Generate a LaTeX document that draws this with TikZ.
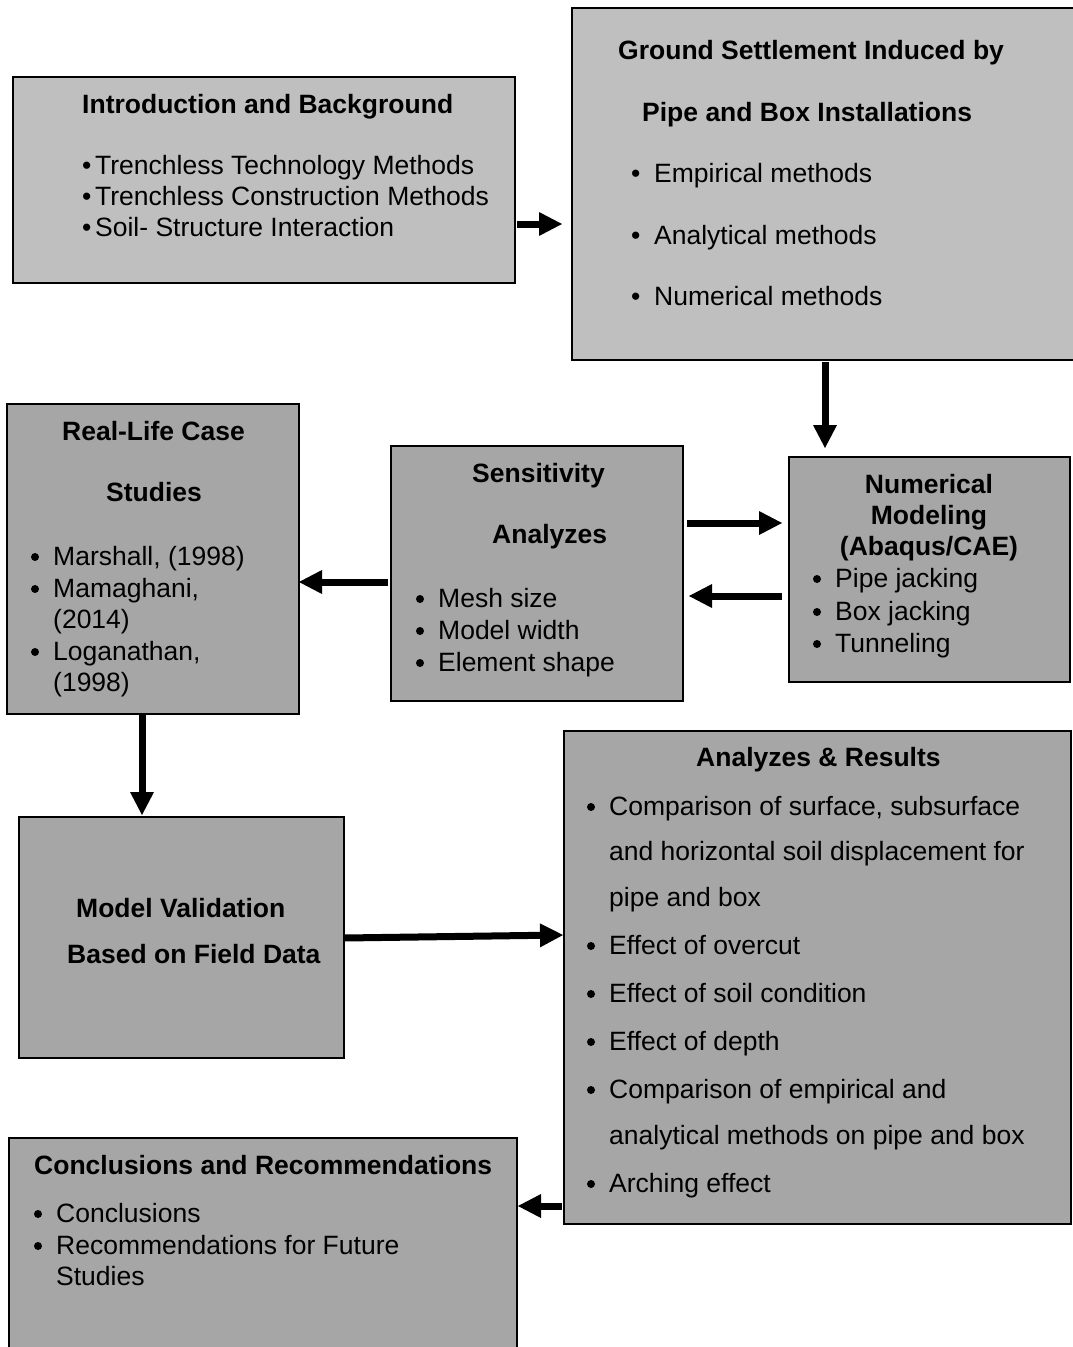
\documentclass[tikz,border=0pt]{standalone}
\usepackage{fontspec}
\setmainfont{Liberation Sans}
\usetikzlibrary{arrows.meta}
\definecolor{lgrey}{HTML}{BFBFBF}
\definecolor{dgrey}{HTML}{A6A6A6}
\newcommand\bitem[4]{\node[txt] (#1) at (#2,#3) {#4};
  \fill ([xshift=-18pt,yshift=8pt]#1.base west) circle (4pt);}
\begin{document}
\begin{tikzpicture}[x=1pt,y=-1pt,
  box/.style={draw=black,line width=2.5pt,anchor=north west,inner sep=0pt,outer sep=0pt},
  lbox/.style={box,fill=lgrey},
  dbox/.style={box,fill=dgrey},
  txt/.style={anchor=base west,inner sep=0pt,font=\fontsize{26.5}{31}\selectfont},
  hd/.style={txt,font=\fontsize{26.5}{31}\selectfont\bfseries},
  arr/.style={line width=7pt,-{Triangle[length=23pt,width=24pt,line width=0pt]}}]
\useasboundingbox (0,0) rectangle (1073,1347);
% boxes
\node[lbox,minimum width=502pt,minimum height=206pt] (intro) at (13,77) {};
\node[lbox,minimum width=530pt,minimum height=352pt] (ground) at (572,8) {};
\node[dbox,minimum width=292pt,minimum height=310pt] (real) at (7,404) {};
\node[dbox,minimum width=292pt,minimum height=255pt] (sens) at (391,446) {};
\node[dbox,minimum width=281pt,minimum height=225pt] (num) at (789,457) {};
\node[dbox,minimum width=325pt,minimum height=241pt] (mv) at (19,817) {};
\node[dbox,minimum width=507pt,minimum height=493pt] (ar) at (564,731) {};
\node[dbox,minimum width=508pt,minimum height=240pt] (conc) at (9,1138) {};
% intro text
\node[hd] (i0) at (82,113) {Introduction and Background};
\node[txt] (i1) at (82,174) {\makebox[13pt][l]{•}Trenchless Technology Methods};
\node[txt] (i2) at (82,205) {\makebox[13pt][l]{•}Trenchless Construction Methods};
\node[txt] (i3) at (82,236) {\makebox[13pt][l]{•}Soil- Structure Interaction};
% ground text
\node[hd] (g0) at (618,59) {Ground Settlement Induced by};
\node[hd] (g1) at (642,121) {Pipe and Box Installations};
\node[txt] (g2) at (631,182) {\makebox[23pt][l]{•}Empirical methods};
\node[txt] (g3) at (631,244) {\makebox[23pt][l]{•}Analytical methods};
\node[txt] (g4) at (631,305) {\makebox[23pt][l]{•}Numerical methods};
% real-life text
\node[hd] (r0) at (62,440) {Real-Life Case};
\node[hd] (r1) at (106,501) {Studies};
\bitem{r2}{53}{565}{Marshall, (1998)}
\bitem{r3}{53}{597}{Mamaghani,}
\node[txt] (r4) at (53,628) {(2014)};
\bitem{r5}{53}{660}{Loganathan,}
\node[txt] (r6) at (53,691) {(1998)};
% sensitivity text
\node[hd] (s0) at (472,482) {Sensitivity};
\node[hd] (s1) at (492,543) {Analyzes};
\bitem{s2}{438}{607}{Mesh size}
\bitem{s3}{438}{639}{Model width}
\bitem{s4}{438}{671}{Element shape}
% numerical text
\node[hd,anchor=base] (n0) at (929,493) {Numerical};
\node[hd,anchor=base] (n1) at (929,524) {Modeling};
\node[hd,anchor=base] (n2) at (929,555) {(Abaqus/CAE)};
\bitem{n3}{835}{587}{Pipe jacking}
\bitem{n4}{835}{620}{Box jacking}
\bitem{n5}{835}{652}{Tunneling}
% model validation text
\node[hd] (m0) at (76,917) {Model Validation};
\node[hd] (m1) at (67,963) {Based on Field Data};
% analyzes & results text
\node[hd] (a0) at (696,766) {Analyzes \& Results};
\bitem{a1}{609}{815}{Comparison of surface, subsurface}
\node[txt] (a2) at (609,860) {and horizontal soil displacement for};
\node[txt] (a3) at (609,906) {pipe and box};
\bitem{a4}{609}{954}{Effect of overcut}
\bitem{a5}{609}{1002}{Effect of soil condition}
\bitem{a6}{609}{1050}{Effect of depth}
\bitem{a7}{609}{1098}{Comparison of empirical and}
\node[txt] (a8) at (609,1144) {analytical methods on pipe and box};
\bitem{a9}{609}{1192}{Arching effect}
% conclusions text
\node[hd] (c0) at (34,1174) {Conclusions and Recommendations};
\bitem{c1}{56}{1222}{Conclusions}
\bitem{c2}{56}{1254}{Recommendations for Future}
\node[txt] (c3) at (56,1285) {Studies};
% arrows
\draw[arr,shorten <=2pt,shorten >=10pt] (intro.east |- 0,224) -- (ground.west |- 0,224);
\draw[arr,shorten <=2pt,shorten >=9pt] (ground.south -| 825,0) -- (num.north -| 825,0);
\draw[arr,shorten <=4pt,shorten >=7pt] (sens.east |- 0,523) -- (num.west |- 0,523);
\draw[arr,shorten <=7pt,shorten >=6pt] (num.west |- 0,596) -- (sens.east |- 0,596);
\draw[arr,shorten <=3pt] (sens.west |- 0,582) -- (real.east |- 0,582);
\draw[arr,shorten >=2pt] (real.south -| 142,0) -- (mv.north -| 142,0);
\draw[arr,shorten >=1pt] (mv.east |- 0,938) -- (ar.west |- 0,935);
\draw[arr,shorten <=2pt,shorten >=1pt] (ar.west |- 0,1206) -- (conc.east |- 0,1206);
\end{tikzpicture}
\end{document}
